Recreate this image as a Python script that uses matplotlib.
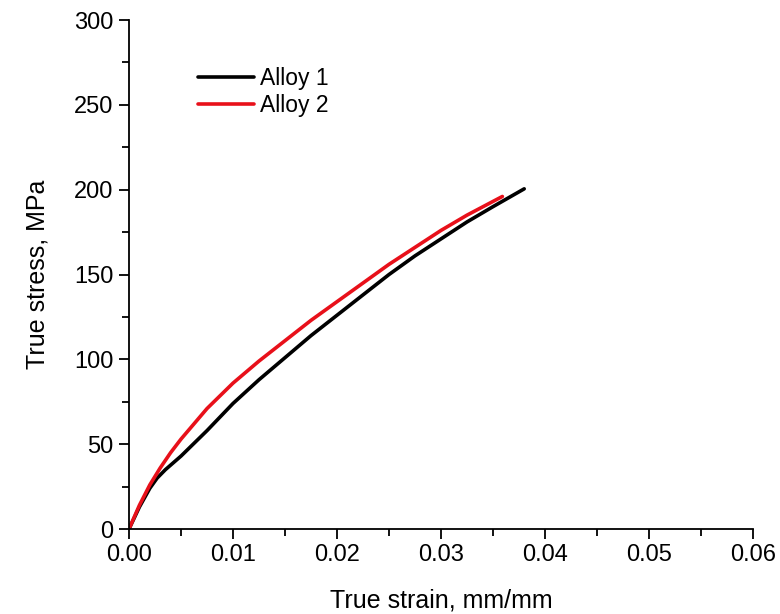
import numpy as np
import matplotlib
matplotlib.use("Agg")
import matplotlib.pyplot as plt
from matplotlib.ticker import MultipleLocator

# data
strain_1 = [0, 0.001, 0.002, 0.0027, 0.0035, 0.005, 0.0075, 0.01, 0.0125, 0.015,
            0.0175, 0.02, 0.0225, 0.025, 0.0275, 0.03, 0.0325, 0.035, 0.038]
stress_1 = [0, 13, 24, 30, 35, 43, 58, 74, 88, 101,
            114, 126, 138, 150, 161, 171, 181, 190, 200.5]

strain_2 = [0, 0.001, 0.002, 0.003, 0.004, 0.005, 0.0075, 0.01, 0.0125, 0.015,
            0.0175, 0.02, 0.0225, 0.025, 0.0275, 0.03, 0.0325, 0.0359]
stress_2 = [0, 14, 26, 36, 45, 53, 71, 86, 99, 111,
            123, 134, 145, 156, 166, 176, 185, 196]

labels = ["Alloy 1", "Alloy 2"]

plt.rcParams['font.family'] = ['Liberation Sans', 'DejaVu Sans']

fig = plt.figure(figsize=(7.8, 6.14), dpi=100)
ax = fig.add_axes([0.1654, 0.1384, 0.80, 0.829])

ax.plot(strain_1, stress_1, color="black", lw=2.6, label=labels[0],
        solid_capstyle="round", solid_joinstyle="round")
ax.plot(strain_2, stress_2, color="#e8101a", lw=2.6, label=labels[1],
        solid_capstyle="round", solid_joinstyle="round")

ax.set_xlim(0, 0.06)
ax.set_ylim(0, 300)
ax.xaxis.set_major_locator(MultipleLocator(0.01))
ax.xaxis.set_minor_locator(MultipleLocator(0.005))
ax.yaxis.set_major_locator(MultipleLocator(50))
ax.yaxis.set_minor_locator(MultipleLocator(25))
ax.xaxis.set_major_formatter(plt.FormatStrFormatter("%.2f"))

ax.spines["top"].set_visible(False)
ax.spines["right"].set_visible(False)
for s in ["left", "bottom"]:
    ax.spines[s].set_linewidth(1.3)
ax.tick_params(which="major", direction="out", length=7, width=1.3,
               labelsize=17, pad=4)
ax.tick_params(which="minor", direction="out", length=5, width=1.3)

ax.set_xlabel("True strain, mm/mm", fontsize=18, labelpad=16)
ax.set_ylabel("True stress, MPa", fontsize=18, labelpad=18)

ax.legend(loc="upper left", bbox_to_anchor=(0.11, 0.908), frameon=False,
          fontsize=16.5, handlelength=2.45, handletextpad=0.25,
          labelspacing=0.2, borderpad=0, borderaxespad=0)

fig.savefig("out.png", dpi=100)
